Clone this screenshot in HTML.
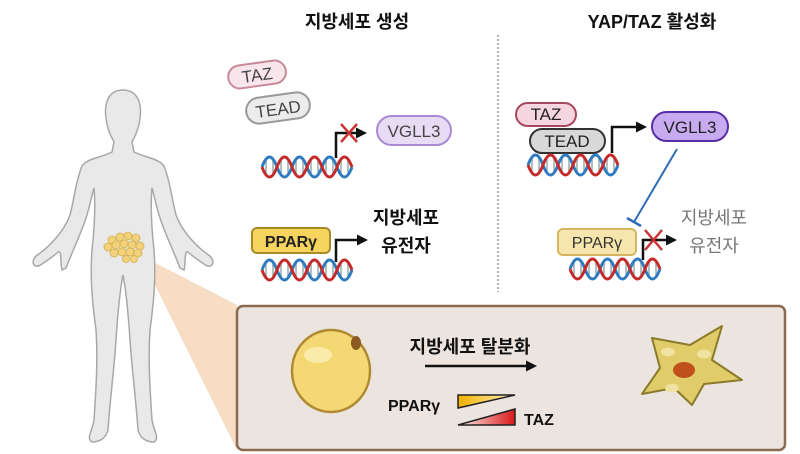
<!DOCTYPE html>
<html><head><meta charset="utf-8"><style>
html,body{margin:0;padding:0;background:#fff;}
svg{display:block}
text{font-family:"Liberation Sans","Noto Sans CJK KR",sans-serif;}
</style></head><body>
<svg width="800" height="454" viewBox="0 0 800 454" xmlns="http://www.w3.org/2000/svg">
<defs>
<g id="dna">
  <g stroke="#9aa" stroke-width="1.5">
    <line x1="4" y1="4" x2="4" y2="18"/><line x1="11" y1="2" x2="11" y2="20"/>
    <line x1="19" y1="2" x2="19" y2="20"/><line x1="26" y1="4" x2="26" y2="18"/>
    <line x1="34" y1="4" x2="34" y2="18"/><line x1="41" y1="2" x2="41" y2="20"/>
    <line x1="49" y1="2" x2="49" y2="20"/><line x1="56" y1="4" x2="56" y2="18"/>
    <line x1="64" y1="4" x2="64" y2="18"/><line x1="71" y1="2" x2="71" y2="20"/>
    <line x1="79" y1="2" x2="79" y2="20"/><line x1="86" y1="4" x2="86" y2="18"/>
  </g>
  <path d="M0 11 Q7.5 -9 15 11 T30 11 T45 11 T60 11 T75 11 T90 11" fill="none" stroke="#2f7bc0" stroke-width="3"/>
  <path d="M0 11 Q7.5 31 15 11 T30 11 T45 11 T60 11 T75 11 T90 11" fill="none" stroke="#c42a2a" stroke-width="3"/>
</g>
<marker id="ah" markerWidth="11" markerHeight="11" refX="8" refY="5.5" orient="auto" markerUnits="userSpaceOnUse">
  <path d="M0 0 L11 5.5 L0 11 z" fill="#111"/>
</marker>
<linearGradient id="gy" x1="0" x2="1"><stop offset="0" stop-color="#f0b000"/><stop offset="1" stop-color="#fff6c0"/></linearGradient>
<linearGradient id="gr" x1="0" x2="1"><stop offset="0" stop-color="#fff0f0"/><stop offset="1" stop-color="#d81818"/></linearGradient>
</defs>

<text x="357" y="28" font-size="18" font-weight="bold" text-anchor="middle" fill="#111">지방세포 생성</text>
<text x="652" y="28" font-size="18" font-weight="bold" text-anchor="middle" fill="#111">YAP/TAZ 활성화</text>
<line x1="498" y1="35" x2="498" y2="292" stroke="#999" stroke-width="1.5" stroke-dasharray="2,2"/>

<rect x="228" y="63" width="58" height="23" rx="11.5" fill="#f9e6ec" stroke="#c88a98" stroke-width="2" transform="rotate(-8 257 74)"/>
<text x="257" y="81" font-size="17" text-anchor="middle" fill="#444" transform="rotate(-8 257 74)">TAZ</text>
<rect x="246" y="95" width="64" height="26" rx="13" fill="#ececec" stroke="#999" stroke-width="2" transform="rotate(-8 278 108)"/>
<text x="278" y="115" font-size="17" text-anchor="middle" fill="#444" transform="rotate(-8 278 108)">TEAD</text>
<use href="#dna" x="262" y="156"/>
<path d="M336 158 V133 H364" fill="none" stroke="#111" stroke-width="2.5" marker-end="url(#ah)"/>
<path d="M341 124 L357 142 M357 124 L341 142" stroke="#c33" stroke-width="2.5"/>
<rect x="377" y="116" width="74" height="29" rx="14.5" fill="#e8dcf5" stroke="#a98bd3" stroke-width="2"/>
<text x="414" y="137" font-size="17" text-anchor="middle" fill="#444">VGLL3</text>

<rect x="252" y="228" width="78" height="25" rx="5" fill="#f6d45e" stroke="#a88a2a" stroke-width="2"/>
<text x="291" y="247" font-size="16" font-weight="bold" text-anchor="middle" fill="#222">PPARγ</text>
<use href="#dna" x="262" y="259"/>
<path d="M336 262 V240 H365" fill="none" stroke="#111" stroke-width="2.5" marker-end="url(#ah)"/>
<text x="406" y="224" font-size="18" text-anchor="middle" fill="#111" font-weight="bold">지방세포</text>
<text x="406" y="252" font-size="18" text-anchor="middle" fill="#111" font-weight="bold">유전자</text>

<rect x="516" y="103" width="60" height="23" rx="11.5" fill="#f5d6e0" stroke="#a8485f" stroke-width="2"/>
<text x="546" y="120" font-size="17" text-anchor="middle" fill="#222">TAZ</text>
<rect x="530" y="129" width="75" height="24" rx="12" fill="#d8d8d8" stroke="#333" stroke-width="2"/>
<text x="567" y="147" font-size="17" text-anchor="middle" fill="#222">TEAD</text>
<use href="#dna" x="528" y="154"/>
<path d="M612 153 V127 H644" fill="none" stroke="#111" stroke-width="2.5" marker-end="url(#ah)"/>
<rect x="652" y="112" width="76" height="29" rx="14.5" fill="#c8aaf0" stroke="#5a2da8" stroke-width="2"/>
<text x="690" y="133" font-size="17" text-anchor="middle" fill="#222">VGLL3</text>
<line x1="677" y1="149" x2="634" y2="222" stroke="#2f6ab5" stroke-width="2"/>
<line x1="627" y1="218" x2="641" y2="226" stroke="#2f6ab5" stroke-width="2.5"/>
<rect x="558" y="229" width="78" height="26" rx="5" fill="#f6e6ae" stroke="#d6b562" stroke-width="2"/>
<text x="597" y="248" font-size="16" text-anchor="middle" fill="#333">PPARγ</text>
<use href="#dna" x="570" y="258"/>
<path d="M643 260 V240 H674" fill="none" stroke="#111" stroke-width="2.5" marker-end="url(#ah)"/>
<path d="M645 230 L662 250 M662 230 L645 250" stroke="#c33" stroke-width="2.5"/>
<text x="714" y="224" font-size="18" text-anchor="middle" fill="#777">지방세포</text>
<text x="714" y="252" font-size="18" text-anchor="middle" fill="#777">유전자</text>

<path d="M140 255 L237 305 L237 450 Z" fill="#f3d2b0" opacity="0.75"/>
<g fill="#e9e9e9" stroke="#a8a8a8" stroke-width="1.5">
  <path d="M123 90 C108 90 104 104 106 118 C107 130 112 138 114 142 L112 152 C100 158 88 158 82 166 C76 180 74 200 70 215 C64 232 48 248 36 256 C30 262 34 270 42 264 C48 260 54 256 58 252 C62 250 60 262 62 270 L66 268 C72 252 80 236 86 218 C90 206 92 194 94 188 C96 210 94 232 92 250 C90 278 92 300 96 330 C98 360 96 390 94 420 C92 432 86 438 92 442 C100 442 106 438 108 430 C110 400 114 370 116 340 C118 310 120 290 123 275 C126 290 128 310 130 340 C132 370 136 400 138 430 C140 438 146 442 154 442 C160 438 154 432 152 420 C150 390 148 360 150 330 C154 300 156 278 154 250 C152 232 150 210 152 188 C154 194 156 206 160 218 C166 236 174 252 180 268 L184 270 C186 262 184 250 188 252 C192 256 198 260 204 264 C212 270 216 262 210 256 C198 248 182 232 176 215 C172 200 170 180 164 166 C158 158 146 158 134 152 L132 142 C134 138 139 130 140 118 C142 104 138 90 123 90 Z"/>
</g>
<g fill="#f2d27a" stroke="#d4b050" stroke-width="0.8">
  <circle cx="112" cy="240" r="4"/><circle cx="120" cy="237" r="4"/><circle cx="128" cy="236" r="4"/><circle cx="136" cy="238" r="4"/>
  <circle cx="108" cy="247" r="4"/><circle cx="116" cy="245" r="4"/><circle cx="124" cy="244" r="4"/><circle cx="132" cy="245" r="4"/><circle cx="140" cy="246" r="4"/>
  <circle cx="114" cy="253" r="4"/><circle cx="122" cy="252" r="4"/><circle cx="130" cy="252" r="4"/><circle cx="138" cy="253" r="4"/>
  <circle cx="126" cy="259" r="3.5"/><circle cx="134" cy="259" r="3.5"/>
</g>

<rect x="237" y="306" width="548" height="144" rx="6" fill="#ece4de" stroke="#8a6a50" stroke-width="2.5"/>
<ellipse cx="331" cy="371" rx="39" ry="41" fill="#f4d873" stroke="#b08a30" stroke-width="2.5"/>
<ellipse cx="318" cy="355" rx="14" ry="8" fill="#fcf0b8" opacity="0.8"/>
<ellipse cx="356" cy="343" rx="5" ry="7" fill="#8a5a20"/>
<text x="470" y="353" font-size="18" font-weight="bold" text-anchor="middle" fill="#111">지방세포 탈분화</text>
<line x1="425" y1="366" x2="534" y2="366" stroke="#111" stroke-width="2.5" marker-end="url(#ah)"/>
<text x="388" y="411" font-size="16" font-weight="bold" fill="#111">PPARγ</text>
<path d="M458 395 L515 395 L458 408 Z" fill="url(#gy)" stroke="#222" stroke-width="1.5"/>
<path d="M515 409 L515 425 L458 425 Z" fill="url(#gr)" stroke="#222" stroke-width="1.5"/>
<text x="524" y="425" font-size="16" font-weight="bold" fill="#111">TAZ</text>
<path d="M652 338 L690 345 L722 326 L712 360 L742 380 L704 384 L692 405 L674 388 L642 394 L660 368 Z" fill="#e0cd6a" stroke="#8a7a2a" stroke-width="2" stroke-linejoin="round"/>
<ellipse cx="684" cy="370" rx="11" ry="8" fill="#c0501a"/>
<ellipse cx="668" cy="352" rx="7" ry="4.5" fill="#f0e2a0"/>
<ellipse cx="704" cy="354" rx="7" ry="4.5" fill="#f0e2a0"/>
<ellipse cx="672" cy="388" rx="7" ry="4.5" fill="#f0e2a0"/>
</svg>
</body></html>
